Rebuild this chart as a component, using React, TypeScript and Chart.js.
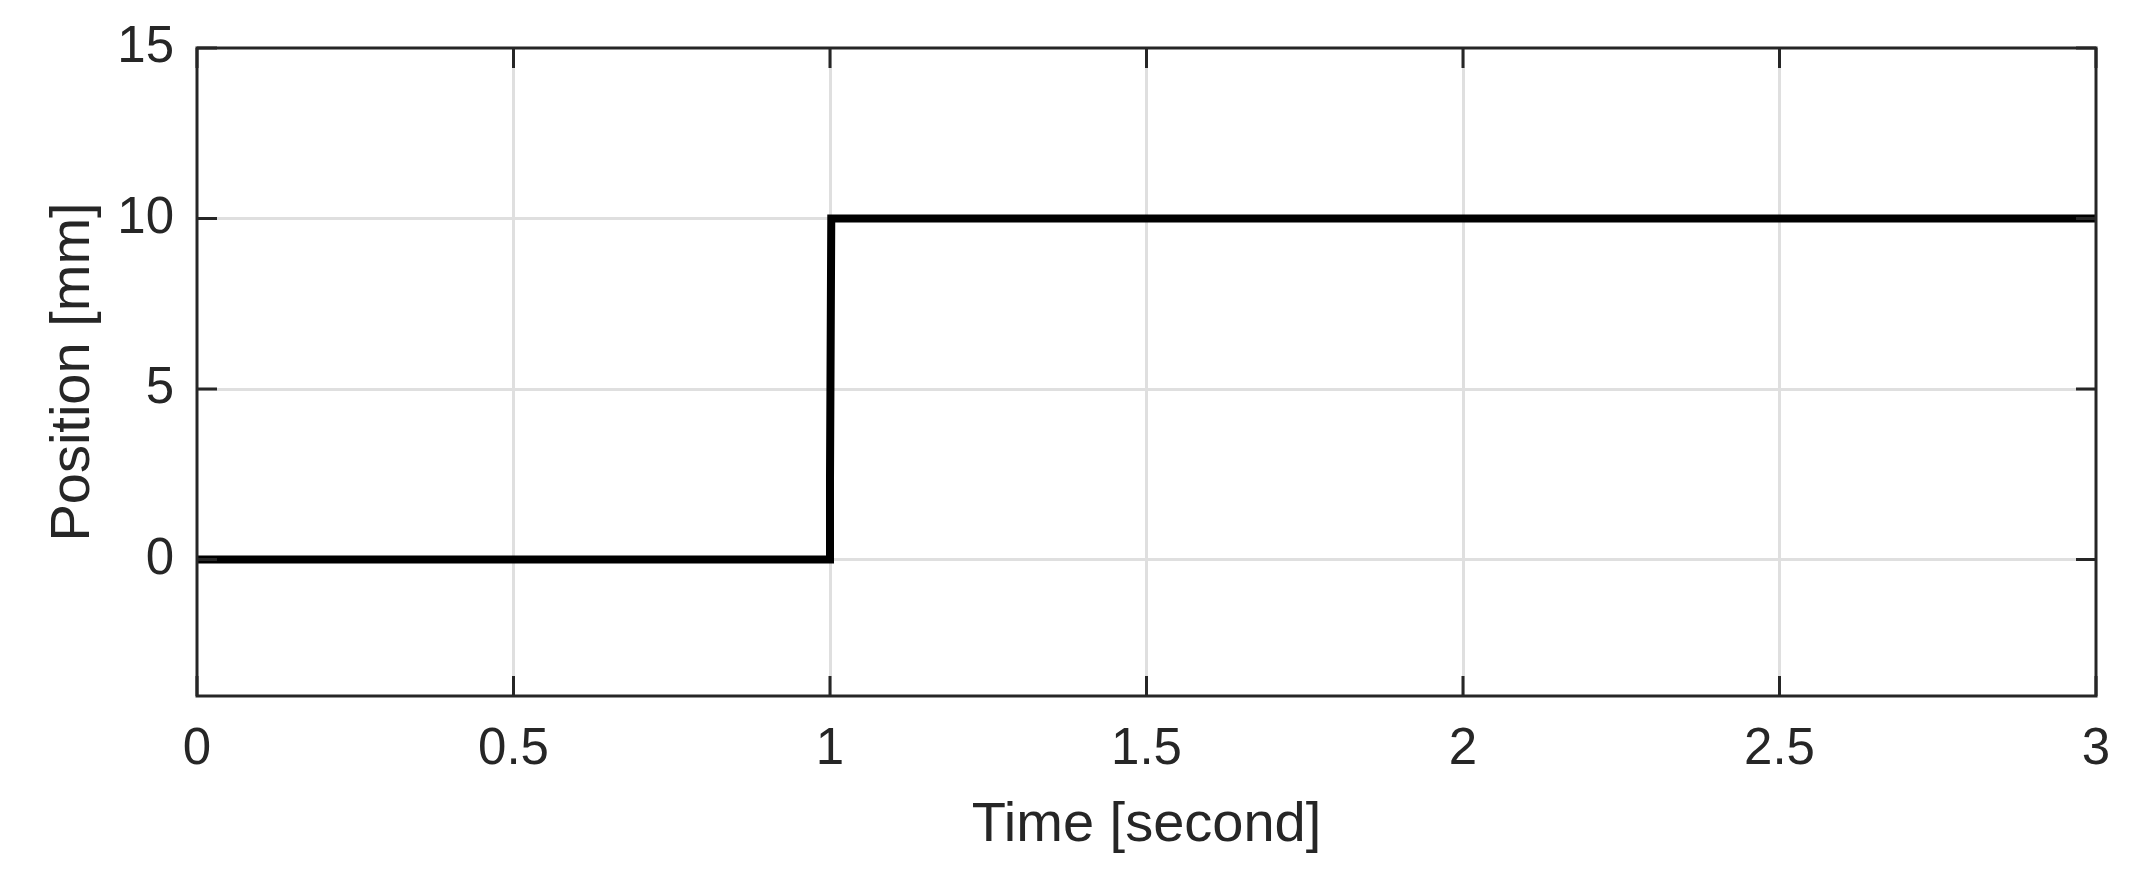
import React, { useEffect, useRef } from "react";
import { Chart, registerables } from "chart.js";

Chart.register(...registerables);

// Data
const TIME_S: number[] = [0, 1, 1, 1.002, 3];
const POSITION_MM: number[] = [0, 0, 2.4, 10, 10];

const X_TICKS: number[] = [0, 0.5, 1, 1.5, 2, 2.5, 3];
const Y_TICKS: number[] = [0, 5, 10, 15];
const X_MIN = 0, X_MAX = 3, Y_MIN = -4, Y_MAX = 15;

const AXIS_COLOR = "#262626";
const GRID_COLOR = "#dfdfdf";
const FONT_FAMILY = "'Liberation Sans', Arial, Helvetica, sans-serif";

const boxPlugin = {
  id: "matlabBox",
  afterDatasetsDraw(chart: any) {
    const { ctx, chartArea, scales } = chart;
    const { left, right, top, bottom } = chartArea;
    const tickLen = 20;
    ctx.save();
    ctx.strokeStyle = AXIS_COLOR;
    ctx.lineWidth = 3;
    ctx.beginPath();
    for (const v of X_TICKS) {
      const px = scales.x.getPixelForValue(v);
      ctx.moveTo(px, bottom);
      ctx.lineTo(px, bottom - tickLen);
      ctx.moveTo(px, top);
      ctx.lineTo(px, top + tickLen);
    }
    for (const v of Y_TICKS) {
      const py = scales.y.getPixelForValue(v);
      ctx.moveTo(left, py);
      ctx.lineTo(left + tickLen, py);
      ctx.moveTo(right, py);
      ctx.lineTo(right - tickLen, py);
    }
    ctx.stroke();
    ctx.strokeRect(left, top, right - left, bottom - top);
    ctx.restore();
  },
};

export default function App() {
  const ref = useRef<HTMLCanvasElement | null>(null);

  useEffect(() => {
    if (!ref.current) return;
    const points = TIME_S.map((t, i) => ({ x: t, y: POSITION_MM[i] }));
    const chart = new Chart(ref.current, {
      type: "line",
      data: {
        datasets: [
          {
            data: points,
            borderColor: "#000000",
            borderWidth: 8,
            pointRadius: 0,
            tension: 0,
            fill: false,
            clip: 0,
            borderJoinStyle: "miter",
          } as any,
        ],
      },
      options: {
        animation: false,
        responsive: false,
        devicePixelRatio: 1,
        layout: { padding: { left: 0, right: 49, top: 48, bottom: 0 } },
        plugins: {
          legend: { display: false },
          tooltip: { enabled: false },
        },
        scales: {
          x: {
            type: "linear",
            min: X_MIN,
            max: X_MAX,
            afterBuildTicks: (scale: any) => {
              scale.ticks = X_TICKS.map((v) => ({ value: v }));
            },
            afterFit: (scale: any) => {
              scale.height = 184;
              scale.paddingLeft = 0;
              scale.paddingRight = 0;
              scale.paddingTop = 0;
              scale.paddingBottom = 0;
            },
            border: { display: false },
            grid: {
              drawTicks: false,
              lineWidth: 3,
              color: (c: any) =>
                c.tick && (c.tick.value === X_MIN || c.tick.value === X_MAX)
                  ? "rgba(0,0,0,0)"
                  : GRID_COLOR,
            },
            ticks: {
              padding: 23,
              maxRotation: 0,
              autoSkip: false,
              color: AXIS_COLOR,
              font: { family: FONT_FAMILY, size: 51 },
              callback: (v: any) => String(v),
            },
            title: {
              display: true,
              text: "Time [second]",
              color: AXIS_COLOR,
              font: { family: FONT_FAMILY, size: 56 },
              padding: { top: 0, bottom: 21 },
            },
          },
          y: {
            type: "linear",
            min: Y_MIN,
            max: Y_MAX,
            afterBuildTicks: (scale: any) => {
              scale.ticks = Y_TICKS.map((v) => ({ value: v }));
            },
            afterFit: (scale: any) => {
              scale.width = 197;
              scale.paddingLeft = 0;
              scale.paddingRight = 0;
              scale.paddingTop = 0;
              scale.paddingBottom = 0;
            },
            border: { display: false },
            grid: {
              drawTicks: false,
              lineWidth: 3,
              color: (c: any) =>
                c.tick && (c.tick.value === Y_MIN || c.tick.value === Y_MAX)
                  ? "rgba(0,0,0,0)"
                  : GRID_COLOR,
            },
            ticks: {
              padding: 23,
              autoSkip: false,
              color: AXIS_COLOR,
              font: { family: FONT_FAMILY, size: 51 },
              callback: (v: any) => String(v),
            },
            title: {
              display: true,
              text: "Position [mm]",
              color: AXIS_COLOR,
              font: { family: FONT_FAMILY, size: 56 },
              padding: { top: 40, bottom: 0 },
            },
          },
        },
      },
      plugins: [boxPlugin],
    });
    return () => chart.destroy();
  }, []);

  return (
    <div style={{ position: "fixed", left: 0, top: 0, width: 2145, height: 880, background: "#ffffff" }}>
      <canvas ref={ref} width={2145} height={880} style={{ width: 2145, height: 880, display: "block" }} />
    </div>
  );
}
